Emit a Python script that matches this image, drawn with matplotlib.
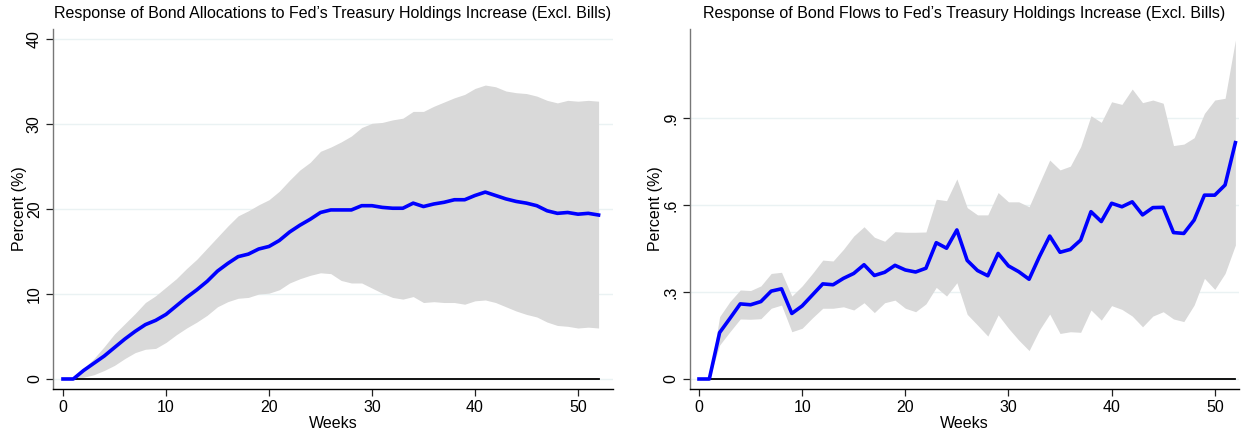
import numpy as np
import matplotlib.pyplot as plt

plt.rcParams["font.family"] = ["Liberation Sans", "DejaVu Sans"]

weeks = np.arange(53)

# left panel: bond allocations (percent)
alloc_mid = [
    0.0, 0.0, 1.0, 1.85, 2.7, 3.7, 4.7, 5.6, 6.4, 6.9, 7.6, 8.6, 9.6, 10.5,
    11.5, 12.7, 13.6, 14.4, 14.7, 15.3, 15.6, 16.3, 17.3, 18.1, 18.8, 19.6,
    19.9, 19.9, 19.9, 20.4, 20.4, 20.2, 20.1, 20.1, 20.7, 20.3, 20.6, 20.8,
    21.1, 21.1, 21.6, 22.0, 21.6, 21.2, 20.9, 20.7, 20.4, 19.8, 19.5, 19.6,
    19.4, 19.5, 19.3,
]
alloc_hi = [
    0.0, 0.0, 1.25, 2.4, 3.8, 5.3, 6.5, 7.7, 9.0, 9.8, 10.8, 11.8, 13.0, 14.1,
    15.4, 16.7, 18.0, 19.2, 19.8, 20.5, 21.1, 22.1, 23.4, 24.6, 25.5, 26.8,
    27.3, 27.9, 28.6, 29.6, 30.1, 30.2, 30.5, 30.7, 31.5, 31.5, 32.1, 32.6,
    33.1, 33.5, 34.2, 34.6, 34.4, 33.9, 33.7, 33.6, 33.3, 32.8, 32.5, 32.8,
    32.7, 32.8, 32.7,
]
alloc_lo = [
    0.0, 0.0, 0.2, 0.5, 1.0, 1.6, 2.4, 3.1, 3.5, 3.6, 4.3, 5.2, 6.0, 6.7,
    7.5, 8.5, 9.1, 9.5, 9.6, 10.0, 10.1, 10.5, 11.3, 11.8, 12.2, 12.5,
    12.4, 11.6, 11.3, 11.3, 10.7, 10.1, 9.6, 9.4, 9.7, 9.0, 9.1, 9.0,
    9.0, 8.8, 9.2, 9.3, 9.0, 8.5, 8.0, 7.6, 7.3, 6.7, 6.3, 6.2,
    6.0, 6.1, 6.0,
]

# right panel: bond flows (percent)
flow_mid = [
    0.0, 0.0, 0.160, 0.209, 0.259, 0.256, 0.267, 0.303, 0.311, 0.226, 0.252,
    0.290, 0.328, 0.325, 0.347, 0.364, 0.394, 0.357, 0.368, 0.392, 0.376,
    0.369, 0.382, 0.470, 0.451, 0.514, 0.409, 0.374, 0.356, 0.433, 0.390,
    0.370, 0.344, 0.422, 0.493, 0.437, 0.447, 0.479, 0.577, 0.543, 0.606,
    0.594, 0.611, 0.566, 0.591, 0.592, 0.505, 0.502, 0.548, 0.634, 0.634,
    0.669, 0.815,
]
flow_hi = [
    0.0, 0.0, 0.215, 0.267, 0.307, 0.305, 0.321, 0.364, 0.368, 0.286, 0.321,
    0.364, 0.410, 0.407, 0.447, 0.493, 0.525, 0.489, 0.475, 0.508, 0.506,
    0.506, 0.507, 0.620, 0.615, 0.690, 0.591, 0.566, 0.566, 0.643, 0.611,
    0.611, 0.594, 0.675, 0.755, 0.721, 0.734, 0.801, 0.908, 0.885, 0.956,
    0.947, 1.000, 0.953, 0.962, 0.951, 0.805, 0.810, 0.832, 0.916, 0.962,
    0.968, 1.169,
]
flow_lo = [
    0.0, 0.0, 0.117, 0.163, 0.207, 0.206, 0.208, 0.244, 0.255, 0.163, 0.175,
    0.211, 0.244, 0.244, 0.249, 0.238, 0.263, 0.229, 0.263, 0.272, 0.244,
    0.232, 0.259, 0.316, 0.286, 0.332, 0.223, 0.186, 0.148, 0.221, 0.175,
    0.134, 0.098, 0.169, 0.224, 0.157, 0.163, 0.161, 0.238, 0.203, 0.253,
    0.240, 0.217, 0.180, 0.217, 0.232, 0.207, 0.198, 0.255, 0.347, 0.309,
    0.364, 0.462,
]

titles = [
    "Response of Bond Allocations to Fed\u2019s Treasury Holdings Increase (Excl. Bills)",
    "Response of Bond Flows to Fed\u2019s Treasury Holdings Increase (Excl. Bills)",
]
alloc_ticks = [0, 10, 20, 30, 40]
alloc_labels = ["0", "10", "20", "30", "40"]
flow_ticks = [0, 0.3, 0.6, 0.9]
flow_labels = ["0", ".3", ".6", ".9"]
x_ticks = [0, 10, 20, 30, 40, 50]

fig = plt.figure(figsize=(12.41, 4.34), dpi=100)
ax1 = fig.add_axes([53 / 1241, 1 - 389 / 434, (613 - 53) / 1241, 360 / 434])
ax2 = fig.add_axes([689.5 / 1241, 1 - 389 / 434, (1239 - 689.5) / 1241, 360 / 434])

panels = [
    (ax1, alloc_mid, alloc_lo, alloc_hi, alloc_ticks, alloc_labels,
     (-0.97, 53.4), (-1.18, 41.2), 0),
    (ax2, flow_mid, flow_lo, flow_hi, flow_ticks, flow_labels,
     (-0.92, 52.35), (-0.0345, 1.207), 0),
]

for i, (ax, mid, lo, hi, yt, yl, xlim, ylim, ypad) in enumerate(panels):
    ax.fill_between(weeks, lo, hi, color="#d9d9d9", linewidth=0, zorder=1)
    ax.plot([0, 52], [0, 0], color="black", linewidth=1.3, zorder=2)
    ax.plot(weeks, mid, color="#0000ff", linewidth=2.6, zorder=3,
            solid_joinstyle="round")
    ax.set_xlim(*xlim)
    ax.set_ylim(*ylim)
    ax.set_xticks(x_ticks)
    ax.set_yticks(yt)
    ax.set_yticklabels(yl, rotation=90, va="center")
    for t in yt:
        ax.axhline(t, color="#eaf2f3", linewidth=1.0, zorder=0)
    for side in ["top", "right"]:
        ax.spines[side].set_visible(False)
    ax.spines["left"].set_color("#777777")
    ax.spines["bottom"].set_color("black")
    ax.spines["left"].set_linewidth(1.0)
    ax.spines["bottom"].set_linewidth(1.0)
    ax.tick_params(axis="both", direction="out", length=5, width=0.9,
                   color="#222222", labelsize=11.5, pad=3)
    ax.set_xlabel("Weeks", fontsize=11.5, labelpad=1)
    ax.set_ylabel("Percent (%)", fontsize=11.5, labelpad=ypad)
    ax.set_title(titles[i], fontsize=11.5, pad=8)
    ax.set_facecolor("white")

fig.savefig("out.png", dpi=100, facecolor="white")
